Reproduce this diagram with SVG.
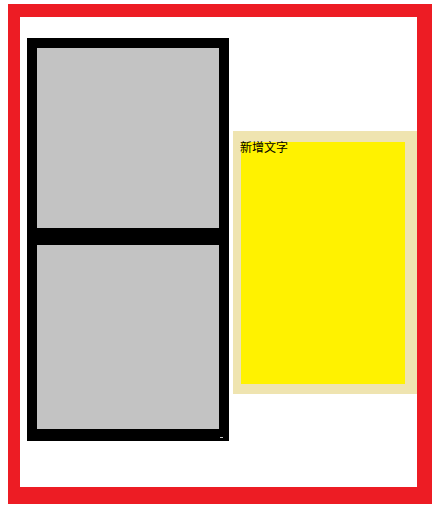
<svg xmlns="http://www.w3.org/2000/svg" width="440" height="507" viewBox="0 0 440 507">
<style>
.frame{fill:#ed1c24;fill-rule:evenodd}
.blk{fill:#000000}
.panel{fill:#c3c3c3}
.beige{fill:#efe4b0}
.yellow{fill:#fff200}
.lbl{font-family:"Noto Sans CJK SC","Noto Sans",sans-serif;font-size:12px;fill:#000}
</style>
<rect width="440" height="507" fill="#ffffff"/>
<g id="outer-frame">
<path class="frame" d="M8 4H432V504H8Z M20 17V487H417V17Z"/>
</g>
<g id="left-column">
<rect class="blk" x="27" y="38" width="202" height="403"/>
<rect class="panel" x="37" y="48" width="182" height="180"/>
<rect class="panel" x="37" y="245" width="182" height="184"/>
<rect x="220" y="437" width="3" height="1" fill="#c8c8c8"/>
</g>
<g id="text-box">
<rect class="beige" x="233" y="131" width="184" height="263"/>
<rect class="yellow" x="241" y="142" width="164" height="242"/>
<text class="lbl" x="240" y="152">新增文字</text>
</g>
<g id="connectors"></g>
</svg>
